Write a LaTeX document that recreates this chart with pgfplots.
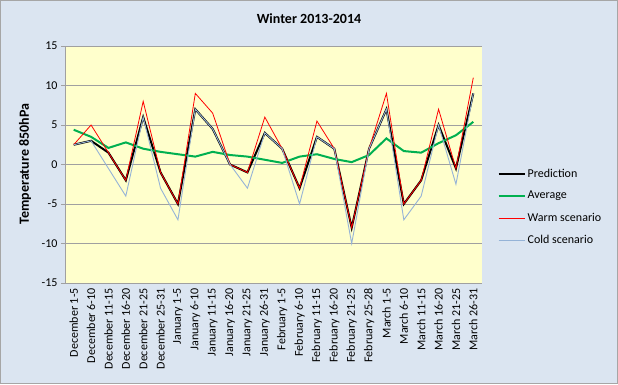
\documentclass[border=0pt]{standalone}
\usepackage{pgfplots}
\pgfplotsset{compat=1.18}
\usepackage{fontspec}
\setmainfont{Carlito}
\definecolor{chartbg}{HTML}{DBE5F1}
\definecolor{plotbg}{HTML}{FFFFCC}
\definecolor{avggreen}{HTML}{00B050}
\definecolor{coldblue}{HTML}{95B3D7}
\definecolor{gridgray}{HTML}{A0A0A0}
\definecolor{borderg}{HTML}{A6A6A6}

\pgfplotstableread{
i pred avg warm cold
0 2.5 4.4 2.5 2.5
1 3 3.5 5 3
2 1.5 2.1 1.5 -0.5
3 -2 2.8 -2 -4
4 6 2.0 8 6
5 -1 1.6 -1 -3
6 -5 1.3 -5 -7
7 7 1.0 9 7
8 4.5 1.6 6.5 4.5
9 0 1.2 0 0
10 -1 1.0 -1 -3
11 4 0.6 6 4
12 2 0.2 2 2
13 -3 1.0 -3 -5
14 3.5 1.3 5.5 3.5
15 2 0.7 2 2
16 -8 0.3 -8 -10
17 2 1.2 2 2
18 7 3.3 9 7
19 -5 1.7 -5 -7
20 -2 1.5 -2 -4
21 5 2.7 7 5
22 -0.5 3.7 -0.5 -2.5
23 9 5.4 11 9
}\datatable

\begin{document}
\begin{tikzpicture}[x=1pt,y=1pt]
\fill[chartbg] (0,0) rectangle (618,384);
\draw[borderg, line width=1pt] (0.5,0.5) rectangle (617.5,383.5);
\node[font=\fontsize{14}{16}\selectfont\bfseries] at (309,365) {Winter 2013-2014};
\node[font=\fontsize{14}{16}\selectfont\bfseries, rotate=90] at (25,220) {Temperature 850hPa};
\begin{axis}[
  at={(65pt,101pt)}, anchor=south west,
  scale only axis, width=417pt, height=237pt,
  xmin=-0.5, xmax=23.5, ymin=-15, ymax=15,
  xtick={0,...,23},
  xticklabels={December 1-5,December 6-10,December 11-15,December 16-20,December 21-25,December 25-31,January 1-5,January 6-10,January 11-15,January 16-20,January 21-25,January 26-31,February 1-5,February 6-10,February 11-15,February 16-20,February 21-25,February 25-28,March 1-5,March 6-10,March 11-15,March 16-20,March 21-25,March 26-31},
  ytick={-15,-10,...,15},
  axis x line=bottom, axis y line=left,
  axis line style={-, gridgray, line width=0.8pt},
  xtick style={draw=none},
  ytick style={gridgray, line width=0.8pt},
  tick align=outside, major tick length=4pt,
  axis background/.style={fill=plotbg},
  ymajorgrids, major grid style={gridgray, line width=0.8pt},
  tick label style={font=\fontsize{12}{14}\selectfont},
  xticklabel style={rotate=90, anchor=east, inner sep=1pt},
  /pgf/number format/assume math mode=true,
  legend style={at={(1.03,0.5)}, anchor=north west, draw=none, fill=none,
    font=\fontsize{12}{14}\selectfont, row sep=8.7pt},
  legend cell align=left,
  legend image code/.code={\draw[#1] (0pt,0pt) -- (26pt,0pt);},
]
\addplot[black, line width=2pt] table[x=i, y=pred] {\datatable};
\addlegendentry{Prediction}
\addplot[avggreen, line width=2pt] table[x=i, y=avg] {\datatable};
\addlegendentry{Average}
\addplot[red, line width=0.8pt] table[x=i, y=warm] {\datatable};
\addlegendentry{Warm scenario}
\addplot[coldblue, line width=0.9pt] table[x=i, y=cold] {\datatable};
\addlegendentry{Cold scenario}
\end{axis}
\end{tikzpicture}
\end{document}
